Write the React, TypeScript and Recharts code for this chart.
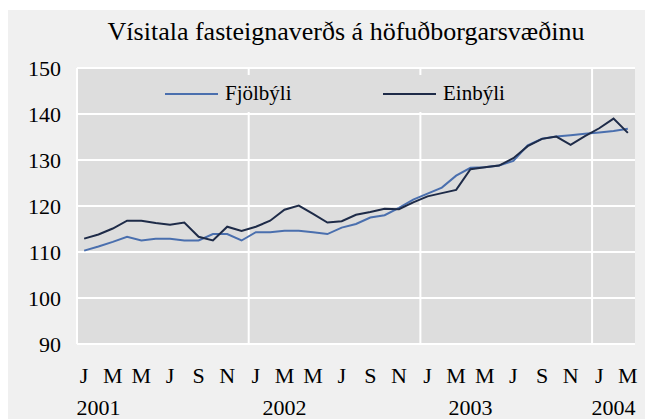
import { LineChart, Line, XAxis, YAxis, CartesianGrid, Legend } from "recharts";

const months = [
  "2001-01", "2001-02", "2001-03", "2001-04", "2001-05", "2001-06",
  "2001-07", "2001-08", "2001-09", "2001-10", "2001-11", "2001-12",
  "2002-01", "2002-02", "2002-03", "2002-04", "2002-05", "2002-06",
  "2002-07", "2002-08", "2002-09", "2002-10", "2002-11", "2002-12",
  "2003-01", "2003-02", "2003-03", "2003-04", "2003-05", "2003-06",
  "2003-07", "2003-08", "2003-09", "2003-10", "2003-11", "2003-12",
  "2004-01", "2004-02", "2004-03",
];

// Fjölbýli (apartments)
const fjolbyli = [
  110.3, 111.2, 112.2, 113.3, 112.5, 112.9, 112.9, 112.5, 112.5, 113.9, 113.9, 112.5,
  114.3, 114.3, 114.6, 114.6, 114.3, 113.9, 115.3, 116.1, 117.5, 118.0, 119.6, 121.4,
  122.7, 124.0, 126.6, 128.3, 128.4, 128.8, 129.8, 133.2, 134.6, 135.1, 135.4, 135.7,
  136.0, 136.3, 136.8,
];

// Einbýli (detached houses)
const einbyli = [
  112.9, 113.8, 115.1, 116.8, 116.8, 116.3, 115.9, 116.4, 113.3, 112.5, 115.5, 114.6,
  115.5, 116.8, 119.2, 120.1, 118.3, 116.4, 116.7, 118.1, 118.7, 119.4, 119.3, 120.8,
  122.1, 122.8, 123.5, 128.0, 128.4, 128.8, 130.4, 133.0, 134.6, 135.1, 133.3, 135.2,
  136.9, 139.0, 135.9,
];

const seriesNames = ["Fjölbýli", "Einbýli"];
const yTicks = [90, 100, 110, 120, 130, 140, 150];
const monthLetters = ["J", "F", "M", "A", "M", "J", "J", "A", "S", "O", "N", "D"];
const yearLabels = [
  { month: "2001-02", label: "2001" },
  { month: "2002-03", label: "2002" },
  { month: "2003-04", label: "2003" },
  { month: "2004-02", label: "2004" },
];

const FONT = '"Liberation Serif", "Times New Roman", serif';

// each month sits in the middle of its slot on a 0..n axis
const data = months.map((m, i) => ({
  pos: i + 0.5,
  month: m,
  fjolbyli: fjolbyli[i],
  einbyli: einbyli[i],
}));

const monthTicks = data
  .filter((d) => Number(d.month.slice(5)) % 2 === 1)
  .map((d) => d.pos);
const yearTicks = yearLabels.map((y) => months.indexOf(y.month) + 0.5);
// year boundaries: the left edge of every January after the first
const yearBounds = months
  .map((m, i) => (i > 0 && m.endsWith("-01") ? i : -1))
  .filter((i) => i > 0);

const monthLabel = (v: number) =>
  monthLetters[Number(months[Math.floor(v)].slice(5)) - 1];
const yearLabel = (v: number) =>
  yearLabels.find((y) => months.indexOf(y.month) === Math.floor(v))?.label ?? "";

type LegendItem = { value?: string; color?: string };

function SeriesLegend({ payload }: { payload?: LegendItem[] }) {
  const lefts = [15, 233];
  // recharts sorts legend items by name; keep the series order instead
  const items = [...(payload ?? [])].sort(
    (a, b) => seriesNames.indexOf(a.value ?? "") - seriesNames.indexOf(b.value ?? "")
  );
  return (
    <div style={{ position: "relative", width: 370, height: 37, background: "#dddddd" }}>
      {items.map((p, i) => (
        <div
          key={p.value}
          style={{
            position: "absolute",
            left: lefts[i],
            top: 0,
            height: 37,
            display: "flex",
            alignItems: "center",
            fontFamily: FONT,
            fontSize: 21,
            color: "#000",
          }}
        >
          <span style={{ display: "inline-block", width: 53, height: 2, background: p.color, marginRight: 7 }} />
          {p.value}
        </div>
      ))}
    </div>
  );
}

export default function App() {
  const tick = { fill: "#000", fontSize: 22, fontFamily: FONT };
  return (
    <div
      style={{
        position: "fixed",
        left: 8,
        top: 10,
        width: 637,
        height: 409,
        background: "#f0f0f0",
        fontFamily: FONT,
      }}
    >
      <div
        style={{
          position: "absolute",
          left: 338,
          top: 7,
          transform: "translateX(-50%)",
          whiteSpace: "nowrap",
          fontSize: 26,
          lineHeight: "30px",
          color: "#000",
        }}
      >
        Vísitala fasteignaverðs á höfuðborgarsvæðinu
      </div>
      <LineChart
        width={637}
        height={409}
        data={data}
        margin={{ top: 58, right: 10, bottom: 0, left: 0 }}
      >
        <CartesianGrid
          fill="#dddddd"
          stroke="#ffffff"
          strokeWidth={2}
          verticalValues={yearBounds}
        />
        <XAxis
          type="number"
          dataKey="pos"
          domain={[0, months.length]}
          ticks={monthTicks}
          interval={0}
          tickFormatter={monthLabel}
          tick={tick}
          tickLine={false}
          tickSize={0}
          tickMargin={23}
          axisLine={{ stroke: "#ffffff", strokeWidth: 2 }}
          height={40}
        />
        <XAxis
          xAxisId="year"
          type="number"
          dataKey="pos"
          domain={[0, months.length]}
          ticks={yearTicks}
          interval={0}
          tickFormatter={yearLabel}
          tick={tick}
          tickLine={false}
          tickSize={0}
          tickMargin={15}
          axisLine={false}
          height={35}
        />
        <YAxis
          domain={[90, 150]}
          ticks={yTicks}
          interval={0}
          width={69}
          tick={tick}
          tickLine={false}
          tickSize={0}
          tickMargin={16}
          axisLine={{ stroke: "#ffffff", strokeWidth: 2 }}
        />
        <Legend
          layout="horizontal"
          verticalAlign="middle"
          align="center"
          wrapperStyle={{ top: 65, left: 142, width: 370, height: 37 }}
          content={(props: any) => <SeriesLegend payload={props.payload} />}
        />
        <Line
          name={seriesNames[0]}
          type="linear"
          dataKey="fjolbyli"
          stroke="#4a6fae"
          strokeWidth={2}
          dot={false}
          isAnimationActive={false}
        />
        <Line
          name={seriesNames[1]}
          type="linear"
          dataKey="einbyli"
          stroke="#1e2b48"
          strokeWidth={2}
          dot={false}
          isAnimationActive={false}
        />
      </LineChart>
    </div>
  );
}
